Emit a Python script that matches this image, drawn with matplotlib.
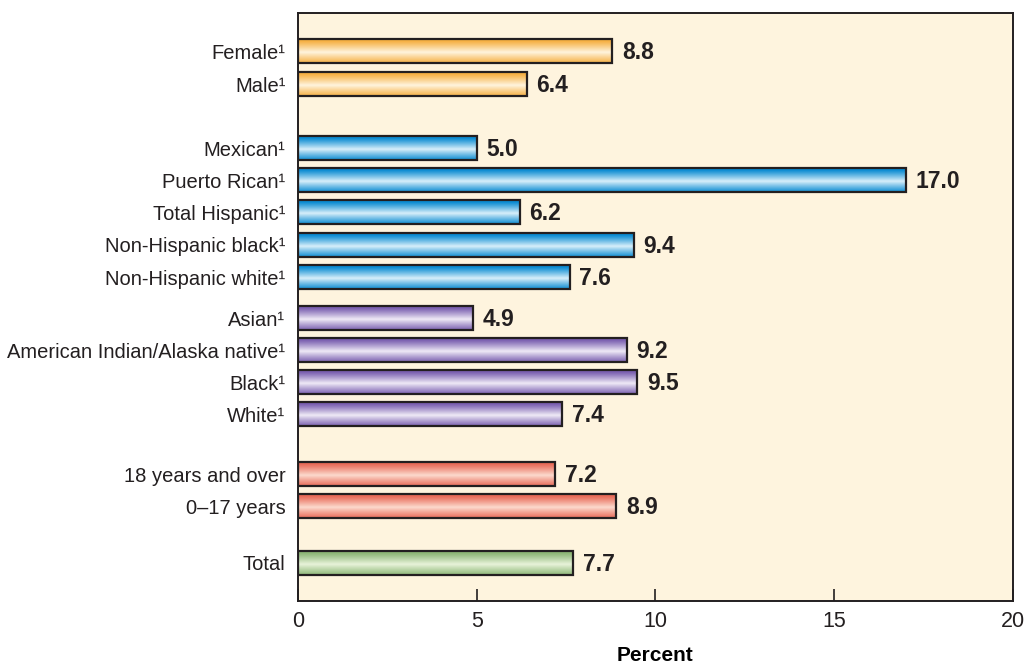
import numpy as np
import matplotlib
matplotlib.use("Agg")
import matplotlib.pyplot as plt
from matplotlib.colors import to_rgb

plt.rcParams.update({
    "font.family": ["Liberation Sans", "DejaVu Sans"],
    "text.color": "#231F20",
    "axes.edgecolor": "#231F20",
    "xtick.color": "#231F20",
    "ytick.color": "#231F20",
})

# categories, top to bottom
labels = [
    "Female\u00b9", "Male\u00b9",
    "Mexican\u00b9", "Puerto Rican\u00b9", "Total Hispanic\u00b9",
    "Non-Hispanic black\u00b9", "Non-Hispanic white\u00b9",
    "Asian\u00b9", "American Indian/Alaska native\u00b9", "Black\u00b9", "White\u00b9",
    "18 years and over", "0\u201317 years",
    "Total",
]
values = [8.8, 6.4,
          5.0, 17.0, 6.2, 9.4, 7.6,
          4.9, 9.2, 9.5, 7.4,
          7.2, 8.9,
          7.7]
groups = ["sex", "sex",
          "hisp", "hisp", "hisp", "hisp", "hisp",
          "race", "race", "race", "race",
          "age", "age",
          "total"]

# row positions (in bar-pitch units) with gaps between the groups
ypos = [0, 1.02,
        3.0, 3.99, 4.98, 6.0, 7.0,
        8.27, 9.26, 10.25, 11.24,
        13.1, 14.1,
        15.85]

# (edge colour, highlight colour) for the cylinder shading
palette = {
    "sex":   ("#F6B043", "#FFF4DE"),
    "hisp":  ("#0A8BD2", "#D8EFFA"),
    "race":  ("#7A5FB0", "#EFEAF6"),
    "age":   ("#E86A58", "#FCDACD"),
    "total": ("#8DB776", "#E8F3DA"),
}

BG = "#FEF4DE"
INK = "#231F20"
BAR_H = 0.74


def gradient(edge, light, n=64):
    t = np.linspace(0, 1, n)
    w = np.clip(1 - np.abs(2 * t - 1.1) / 0.95, 0, 1) ** 1.1
    e, l = np.array(to_rgb(edge)), np.array(to_rgb(light))
    col = e[None, :] * (1 - w[:, None]) + l[None, :] * w[:, None]
    return col[:, None, :]


fig = plt.figure(figsize=(10.24, 6.65), dpi=100)
ax = fig.add_axes([0.291, 0.0962, 0.698, 0.884])
ax.set_facecolor(BG)

for y, v, g in zip(ypos, values, groups):
    edge, light = palette[g]
    ax.imshow(gradient(edge, light), extent=[0, v, y + BAR_H / 2, y - BAR_H / 2],
              aspect="auto", interpolation="bilinear", zorder=2)
    ax.annotate(f"{v:.1f}", (v, y), xytext=(7, -1), textcoords="offset points",
                ha="left", va="center", fontsize=16.5, fontweight="bold", color=INK)

ax.barh(ypos, values, height=BAR_H, fill=False, edgecolor=INK, linewidth=1.6, zorder=3)

ax.set_xlim(0, 20)
ax.set_ylim(17.03, -1.18)
ax.set_xticks([0, 5, 10, 15, 20])
ax.tick_params(axis="x", direction="in", length=9, width=1.2, pad=7, labelsize=15.5)
ax.set_yticks(ypos)
ax.set_yticklabels(labels)
ax.tick_params(axis="y", length=0, pad=9, labelsize=14.5)
for s in ax.spines.values():
    s.set_linewidth(1.4)
ax.set_xlabel("Percent", fontsize=15, fontweight="bold", labelpad=10)

fig.savefig("out.png", dpi=100, facecolor="white")
